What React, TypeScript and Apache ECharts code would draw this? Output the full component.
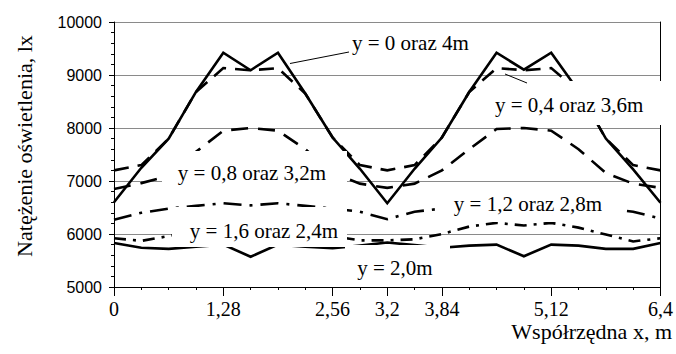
import React, { useEffect, useRef } from "react";
import * as echarts from "echarts";

const xValues = [0, 0.32, 0.64, 0.96, 1.28, 1.6, 1.92, 2.24, 2.56, 2.88, 3.2, 3.52, 3.84, 4.16, 4.48, 4.8, 5.12, 5.44, 5.76, 6.08, 6.4];
const xTickValues = [0, 1.28, 2.56, 3.2, 3.84, 5.12, 6.4];
const xTickLabels = ["0", "1,28", "2,56", "3,2", "3,84", "5,12", "6,4"];

const seriesY0 = [6600, 7250, 7800, 8680, 9420, 9090, 9420, 8650, 7820, 7230, 6580, 7230, 7820, 8680, 9420, 9100, 9420, 8700, 7800, 7220, 6590];
const seriesY04 = [7200, 7300, 7800, 8680, 9130, 9090, 9130, 8650, 7820, 7300, 7200, 7300, 7820, 8680, 9130, 9090, 9130, 8700, 7800, 7300, 7200];
const seriesY08 = [6850, 6960, 7100, 7550, 7950, 8000, 7950, 7600, 7150, 6950, 6870, 6950, 7200, 7600, 7980, 8000, 7950, 7600, 7150, 6950, 6870];
const seriesY12 = [6270, 6400, 6480, 6530, 6580, 6540, 6580, 6530, 6480, 6420, 6280, 6420, 6480, 6530, 6580, 6540, 6580, 6530, 6480, 6420, 6290];
const seriesY16 = [5920, 5870, 5960, 6060, 6180, 6150, 6180, 6060, 5960, 5880, 5880, 5900, 6000, 6140, 6210, 6160, 6210, 6120, 5990, 5860, 5920];
const seriesY20 = [5830, 5740, 5720, 5760, 5800, 5570, 5800, 5760, 5730, 5780, 5840, 5790, 5740, 5780, 5800, 5580, 5800, 5780, 5720, 5720, 5830];

const SERIF = "Liberation Serif";
const SANS = "Liberation Sans";

function pairs(vals: number[]) {
  return xValues.map((x, i) => [x, vals[i]]);
}

function isLabelled(v: string | number) {
  const n = Number(v);
  return xTickValues.some((t) => Math.abs(t - n) < 1e-6);
}

function labelText(v: string | number) {
  const n = Number(v);
  const idx = xTickValues.findIndex((t) => Math.abs(t - n) < 1e-6);
  return idx >= 0 ? xTickLabels[idx] : "";
}

function lineSeries(name: string, vals: number[], type: any, width = 2.6) {
  return {
    name,
    type: "line",
    xAxisIndex: 0,
    yAxisIndex: 0,
    data: pairs(vals),
    symbol: "none",
    showSymbol: false,
    lineStyle: { color: "#000", width, type, cap: "butt", join: "miter" },
    z: 3,
  };
}

function box(x: number, y: number, w: number, h: number) {
  return { type: "rect", shape: { x, y, width: w, height: h }, style: { fill: "#fff" }, z: 100 };
}

function label(text: string, x: number, y: number, align = "center") {
  return {
    type: "text",
    x,
    y,
    z: 101,
    style: { text, fontFamily: SERIF, fontSize: 21, fill: "#000", align, verticalAlign: "middle" },
  };
}

export default function App() {
  const ref = useRef<HTMLDivElement>(null);
  useEffect(() => {
    if (!ref.current) return;
    const chart = echarts.init(ref.current, undefined, { renderer: "svg" });
    const option: any = {
      animation: false,
      backgroundColor: "#fff",
      grid: { left: 114, right: 10, top: 22, bottom: 67, containLabel: false },
      xAxis: [
        {
          type: "value",
          min: 0,
          max: 6.4,
          interval: 0.32,
          axisLine: { show: true, onZero: false, lineStyle: { color: "#000", width: 1 } },
          axisTick: { show: true, length: 3, lineStyle: { color: "#000", width: 1 } },
          axisLabel: { show: false },
          splitLine: { show: false },
        },
        {
          type: "category",
          data: xValues.map(String),
          boundaryGap: false,
          position: "bottom",
          axisLine: { show: false },
          axisTick: { show: true, length: 9, interval: (i: number, v: string) => isLabelled(v), lineStyle: { color: "#000", width: 1 } },
          axisLabel: {
            interval: (i: number, v: string) => isLabelled(v),
            formatter: (v: string) => labelText(v),
            fontFamily: SERIF,
            fontSize: 20,
            color: "#000",
            margin: 12,
          },
          splitLine: { show: false },
        },
      ],
      yAxis: [
        {
          type: "value",
          min: 5000,
          max: 10000,
          interval: 1000,
          axisLine: { show: true, lineStyle: { color: "#000", width: 1 } },
          axisTick: { show: true, length: 5, lineStyle: { color: "#000" } },
          minorTick: { show: true, splitNumber: 5, length: 3, lineStyle: { color: "#000" } },
          axisLabel: { fontFamily: SANS, fontSize: 16, color: "#000", margin: 12, formatter: (v: number) => String(v) },
          splitLine: { show: true, lineStyle: { color: "#8a8a8a", width: 1 } },
        },
        {
          type: "value",
          position: "right",
          min: 5000,
          max: 10000,
          interval: 1000,
          axisLine: { show: true, lineStyle: { color: "#000", width: 1 } },
          axisTick: { show: false },
          axisLabel: { show: false },
          splitLine: { show: false },
        },
      ],
      series: [
        lineSeries("y = 0 oraz 4m", seriesY0, "solid"),
        lineSeries("y = 0,4 oraz 3,6m", seriesY04, [15, 9]),
        lineSeries("y = 0,8 oraz 3,2m", seriesY08, [17, 10]),
        lineSeries("y = 1,2 oraz 2,8m", seriesY12, [18, 8, 3, 8]),
        lineSeries("y = 1,6 oraz 2,4m", seriesY16, [12, 7, 3, 7]),
        lineSeries("y = 2,0m", seriesY20, "solid"),
      ],
      graphic: [
        { type: "line", shape: { x1: 290, y1: 63.5, x2: 349, y2: 52 }, style: { stroke: "#000", lineWidth: 1 }, z: 100 },
        label("y = 0 oraz 4m", 352, 43, "left"),
        box(490, 81, 178, 44),
        { type: "line", shape: { x1: 505, y1: 74, x2: 527, y2: 83 }, style: { stroke: "#000", lineWidth: 1 }, z: 102 },
        label("y = 0,4 oraz 3,6m", 495, 105, "left"),
        box(162, 151, 185, 43),
        label("y = 0,8 oraz 3,2m", 252, 173),
        box(172, 207, 175, 40),
        label("y = 1,6 oraz 2,4m", 264, 231),
        box(440, 186, 180, 36),
        label("y = 1,2 oraz 2,8m", 528, 204),
        box(345, 245, 105, 35),
        label("y = 2,0m", 395, 268),
        {
          type: "text",
          x: 24,
          y: 146,
          rotation: Math.PI / 2,
          z: 101,
          style: { text: "Natężenie oświetlenia, lx", fontFamily: SERIF, fontSize: 22, fill: "#000", align: "center", verticalAlign: "middle" },
        },
        {
          type: "text",
          x: 672,
          y: 331,
          z: 101,
          style: { text: "Współrzędna x, m", fontFamily: SERIF, fontSize: 22, fill: "#000", align: "right", verticalAlign: "middle" },
        },
      ],
    };
    chart.setOption(option);
    return () => chart.dispose();
  }, []);
  return <div ref={ref} style={{ position: "fixed", left: 0, top: 0, width: 676, height: 354 }} />;
}
